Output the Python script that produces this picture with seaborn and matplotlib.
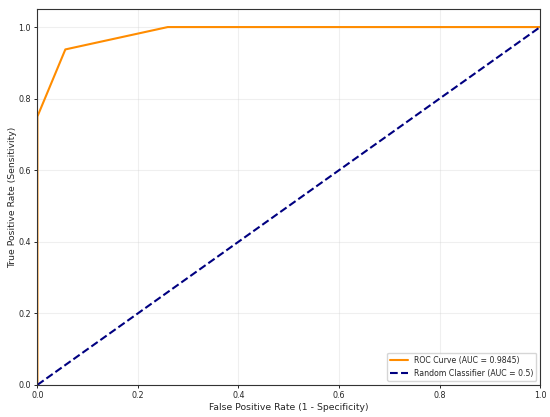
import numpy as np
import pandas as pd
import matplotlib
matplotlib.use("Agg")
import matplotlib.pyplot as plt
import seaborn as sns

# titik kurva ROC
fpr = [0.0, 0.0, 0.0556, 0.2593, 1.0]
tpr = [0.0, 0.75, 0.9375, 1.0, 1.0]
auc_score = 0.9845

diag_x = [0.0, 1.0]
diag_y = [0.0, 1.0]

sns.set_style("white")
plt.rcParams['font.family'] = ['DejaVu Sans']

fig, ax = plt.subplots(figsize=(5.5, 4.17), dpi=100)

roc_df = pd.DataFrame({"fpr": fpr, "tpr": tpr})
sns.lineplot(data=roc_df, x="fpr", y="tpr", ax=ax, color="darkorange", lw=1.5,
             sort=False, estimator=None, label=f"ROC Curve (AUC = {auc_score})")
ax.plot(diag_x, diag_y, color="navy", lw=1.5, linestyle="--",
        label="Random Classifier (AUC = 0.5)")

ax.set_xlim(0.0, 1.0)
ax.set_ylim(0.0, 1.05)
ax.set_xlabel("False Positive Rate (1 - Specificity)", fontsize=6.7, labelpad=1.8)
ax.set_ylabel("True Positive Rate (Sensitivity)", fontsize=6.7, labelpad=1.2)
ax.tick_params(labelsize=5.8, length=2.5, width=0.7, pad=2, left=True, bottom=True)
ax.grid(True, alpha=0.3)
for s in ax.spines.values():
    s.set_color("#333333")
    s.set_linewidth(0.8)
ax.legend(loc="lower right", fontsize=5.6, frameon=True, handlelength=2.2)

plt.subplots_adjust(left=0.068, right=0.982, top=0.978, bottom=0.077)
plt.savefig("out.png", dpi=100)
